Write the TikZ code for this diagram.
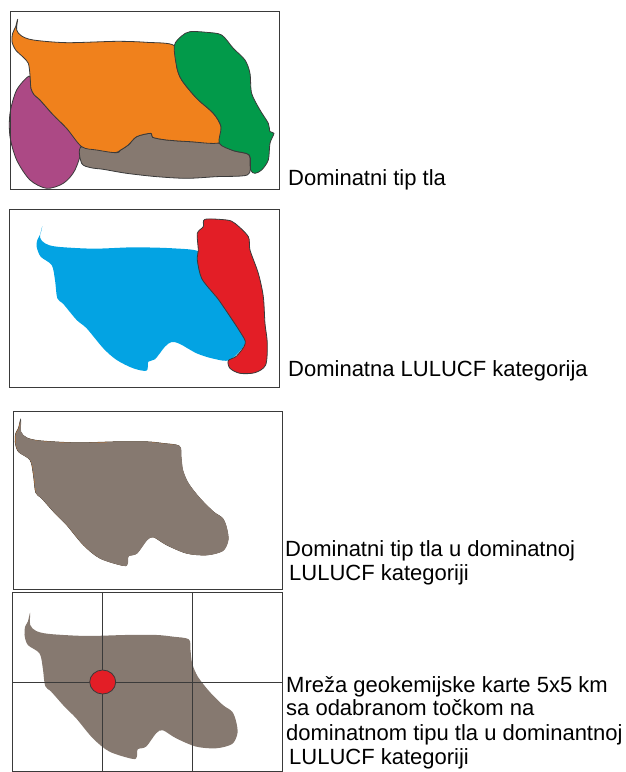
\documentclass[tikz,border=0pt]{standalone}
\usepackage{fontspec}
\setmainfont{Liberation Sans}
\definecolor{cOrange}{HTML}{F0811C}
\definecolor{cGreen}{HTML}{029A4A}
\definecolor{cMag}{HTML}{AC4985}
\definecolor{cBrown}{HTML}{867970}
\definecolor{cBlue}{HTML}{03A3E3}
\definecolor{cRed}{HTML}{E31E26}
\definecolor{cLine}{HTML}{3A3A3A}
\tikzset{
  panel/.style={draw=cLine,line width=0.8pt,fill=none},
  blob/.style={draw=cLine,line width=0.8pt,line join=round},
  bare/.style={draw=none},
  lab/.style={font=\fontsize{22}{24}\selectfont,anchor=base west,inner sep=0pt,align=left},
  zoomed/.style={x=0.3333pt,y=-0.3333pt},
  sm/.style={smooth cycle,tension=0.5}
}
\begin{document}
\begin{tikzpicture}[x=1pt,y=-1pt]
\useasboundingbox (0,0) rectangle (626,772);
% panel 1
\begin{scope}[zoomed]
\path[blob,fill=cMag] plot[sm] coordinates {(88,228)(50,270)(30,340)(30,410)(50,480)(90,540)(140,565)(190,550)(225,510)(243,440)(200,385)(160,345)(120,300)(103,285)(93,265)};
\path[blob,fill=cBrown] plot[sm] coordinates {(245,440)(345,458)(362,450)(385,435)(410,410)(452,400)(458,412)(500,420)(570,425)(658,430)(700,452)(745,463)(750,490)(742,525)(650,530)(560,535)(470,530)(380,520)(310,508)(272,503)(245,490)};
\path[blob,fill=cOrange] plot[sm] coordinates {(53,58)(47,80)(38,100)(36,125)(47,150)(70,172)(85,190)(90,225)(93,265)(103,285)(120,300)(160,345)(200,385)(245,440)(290,450)(345,458)(362,450)(385,435)(410,410)(452,400)(458,412)(500,420)(570,425)(658,428)(663,380)(640,340)(590,295)(545,240)(530,200)(523,137)(440,127)(350,124)(200,128)(100,120)(65,108)(50,90)};
\path[blob,fill=cGreen] plot[sm] coordinates {(523,137)(545,108)(570,95)(620,97)(665,105)(700,145)(735,180)(750,220)(755,280)(780,330)(805,370)(810,395)(822,400)(810,430)(805,480)(785,510)(765,520)(752,510)(748,465)(700,452)(658,430)(663,380)(640,340)(590,295)(545,240)(530,200)};
\end{scope}
\draw[panel] (10,11) rectangle (279,189);
% panel 2
\begin{scope}[zoomed,yshift=-200pt]
\path[bare,fill=cBlue] plot[sm] coordinates {(127,78)(122,100)(112,120)(110,140)(122,170)(155,195)(165,240)(172,295)(190,312)(230,360)(260,385)(310,445)(350,480)(400,505)(440,512)(445,485)(465,478)(495,440)(515,426)(540,432)(590,460)(640,476)(690,480)(736,430)(720,395)(660,305)(620,255)(597,200)(597,155)(520,145)(400,142)(280,146)(170,140)(135,130)(120,112)};
\path[blob,fill=cRed] plot[sm] coordinates {(615,58)(610,80)(592,100)(595,150)(592,180)(605,235)(640,280)(660,305)(720,395)(736,430)(710,468)(685,482)(690,505)(720,520)(765,518)(797,495)(802,430)(795,370)(790,290)(775,220)(750,150)(745,110)(705,70)(680,60)};
\end{scope}
\draw[panel] (9.5,209) rectangle (279,387);
% panel 3
\begin{scope}[zoomed,yshift=-400pt]
\path[draw=cLine,line width=0.5pt,fill=cOrange] plot[sm] coordinates {(62,58)(55,85)(47,100)(45,125)(55,155)(90,180)(100,225)(107,278)(125,295)(165,340)(200,375)(250,435)(300,475)(370,497)(382,490)(385,468)(410,460)(440,420)(460,411)(500,435)(560,460)(620,465)(668,452)(684,420)(680,385)(668,355)(640,335)(600,295)(565,250)(548,210)(543,170)(538,138)(490,130)(440,125)(350,125)(230,128)(120,122)(80,113)(62,95)};
\begin{scope}[xshift=0.5pt,yshift=-0.3pt]
\path[bare,fill=cBrown] plot[sm] coordinates {(62,58)(55,85)(47,100)(45,125)(55,155)(90,180)(100,225)(107,278)(125,295)(165,340)(200,375)(250,435)(300,475)(370,497)(382,490)(385,468)(410,460)(440,420)(460,411)(500,435)(560,460)(620,465)(668,452)(684,420)(680,385)(668,355)(640,335)(600,295)(565,250)(548,210)(543,170)(538,138)(490,130)(440,125)(350,125)(230,128)(120,122)(80,113)(62,95)};
\end{scope}
\end{scope}
\draw[panel] (13,411) rectangle (282,589);
% panel 4
\begin{scope}[zoomed,xshift=9.5pt,yshift=-593.3pt]
\path[bare,fill=cBrown] plot[sm] coordinates {(62,58)(55,85)(47,100)(45,125)(55,155)(90,180)(100,225)(107,278)(125,295)(165,340)(200,375)(250,435)(300,475)(370,497)(382,490)(385,468)(410,460)(440,420)(460,411)(500,435)(560,460)(620,465)(668,452)(684,420)(680,385)(668,355)(640,335)(600,295)(565,250)(548,210)(543,170)(538,138)(490,130)(440,125)(350,125)(230,128)(120,122)(80,113)(62,95)};
\end{scope}
\draw[panel] (12.7,592.7) rectangle (282,771);
\coordinate (gT1) at (102.7,592.7); \coordinate (gB1) at (102.7,771);
\coordinate (gT2) at (192.3,592.7); \coordinate (gB2) at (192.3,771);
\coordinate (gL) at (12.7,682); \coordinate (gR) at (282,682);
\draw[cLine,line width=0.7pt] (gT1)--(gB1) (gT2)--(gB2) (gL)--(gR);
\path[blob,fill=cRed] (102.7,682) ellipse [x radius=13,y radius=12];
% labels
\node[lab] (t1) at (288,185) {Dominatni tip tla};
\node[lab] (t2) at (288,376) {Dominatna LULUCF kategorija};
\node[lab] (t3) at (285,556) {Dominatni tip tla u dominatnoj};
\node[lab] (t3b) at (289,580) {LULUCF kategoriji};
\node[lab] (t4) at (286,692) {Mreža geokemijske karte 5x5 km};
\node[lab] (t4b) at (286,715) {sa odabranom točkom na};
\node[lab] (t4c) at (286,740) {dominatnom tipu tla u dominantnoj};
\node[lab] (t4d) at (289,764) {LULUCF kategoriji};
\end{tikzpicture}
\end{document}
